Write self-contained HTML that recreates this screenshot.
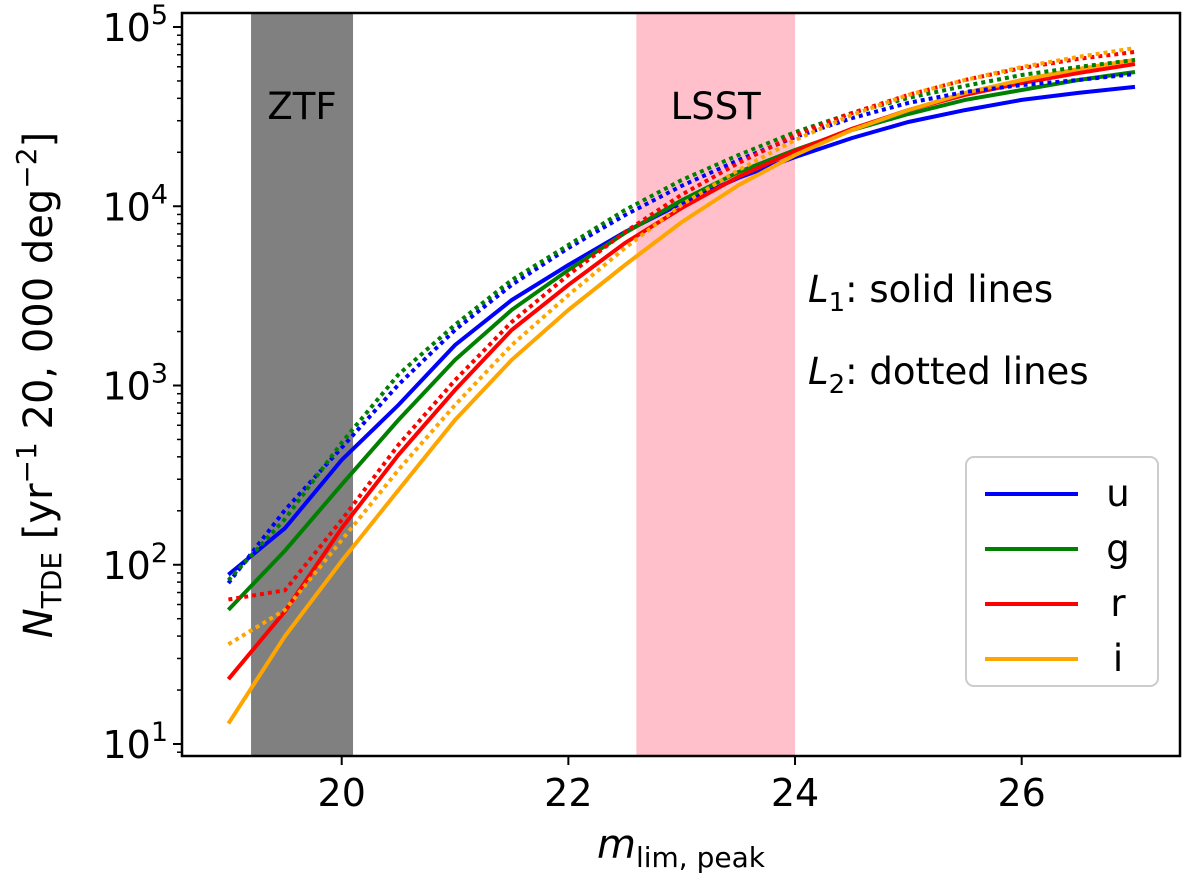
<!DOCTYPE html>
<html><head><meta charset="utf-8"><style>
body{margin:0;background:#fff;font-family:"DejaVu Sans","Liberation Sans",sans-serif;}
svg text{font-family:"DejaVu Sans","Liberation Sans",sans-serif;}
</style></head><body>
<svg id="chart" width="1200" height="878" viewBox="0 0 1200 878" xmlns="http://www.w3.org/2000/svg">
<g id="bands"></g>
<g id="series"></g>
<g id="axes"></g>
<g id="legend"></g>
</svg>
<script>
const mags = [19,19.5,20,20.5,21,21.5,22,22.5,23,23.5,24,24.5,25,25.5,26,26.5,27];
const uSolid = [88,160,384,778,1680,3000,4700,7180,10400,14400,18800,24000,29500,34400,39200,42900,46300];
const gSolid = [56,120,280,642,1390,2640,4410,7100,10800,15500,20600,26600,32700,39200,44500,50600,56100];
const rSolid = [23,55,160,410,944,2040,3640,6240,9780,14600,20300,27000,34400,41800,48700,55400,62200];
const iSolid = [13,40,105,261,642,1390,2640,4700,8160,13100,19300,26600,34400,42900,50600,58300,65500];
const uDot = [79,202,450,1010,2040,3640,5850,8930,13000,18100,24300,31000,37700,43400,47400,50600,54700];
const gDot = [82,180,480,1150,2180,3880,6080,9530,14000,19300,25900,33100,40200,46900,54000,59800,65500];
const rDot = [64,72,178,466,1070,2260,4140,7180,11600,17400,24900,33100,41800,50600,59000,66400,72600];
const iDot = [36,56,137,338,778,1680,3200,5850,10200,15900,23400,32300,41800,50600,59800,68100,76400];
const xTicks = [20,22,24,26];
const yTicks = [1,2,3,4,5];
const bandsData = [[19.2,20.1,'ZTF','#808080'],[22.6,24.0,'LSST','#ffc0cb']];
const legendLabels = ['u','g','r','i'];
const colors = ['#0000ff','#008000','#ff0000','#ffa500'];

const L=182,R=1180,T=13,B=756;
const X=v=>341.7+(v-20)*113.33;
const Y=v=>744-(Math.log10(v)-1)*179.25;
const NS='http://www.w3.org/2000/svg';
function mk(tag,attrs,parent,text){const e=document.createElementNS(NS,tag);for(const k in attrs)e.setAttribute(k,attrs[k]);if(text!==undefined)e.textContent=text;parent.appendChild(e);return e;}
const gb=document.getElementById('bands'),gs=document.getElementById('series'),ga=document.getElementById('axes'),gl=document.getElementById('legend');

bandsData.forEach(b=>{
  const r=mk('rect',{x:X(b[0]),y:T,width:X(b[1])-X(b[0]),height:B-T,fill:b[3]},gb);
  
  
  const t=mk('text',{x:(X(b[0])+X(b[1]))/2,y:119,'font-size':37,'text-anchor':'middle',fill:'#000'},gb,b[2]);
  
  
});

const all=[[uSolid,0,'u-solid',''],[gSolid,1,'g-solid',''],[rSolid,2,'r-solid',''],[iSolid,3,'i-solid',''],
[uDot,0,'u-dotted','4,4'],[gDot,1,'g-dotted','4,4'],[rDot,2,'r-dotted','4,4'],[iDot,3,'i-dotted','4,4']];
all.forEach(s=>{
  const pts=mags.map((m,k)=>X(m).toFixed(1)+','+Y(s[0][k]).toFixed(1)).join(' ');
  const p=mk('polyline',{points:pts,fill:'none',stroke:colors[s[1]],'stroke-width':4,'stroke-dasharray':s[3]||'none'},gs);
  
  
});

const frame=mk('rect',{x:L,y:T,width:R-L,height:B-T,fill:'none',stroke:'#000','stroke-width':2.5},ga);


xTicks.forEach(v=>{
  mk('line',{x1:X(v),x2:X(v),y1:B,y2:B+9,stroke:'#000','stroke-width':2},ga);
  const t=mk('text',{x:X(v),y:B+50,'font-size':38,'text-anchor':'middle'},ga,String(v));
  
  
});
yTicks.forEach(e=>{
  const y=Y(Math.pow(10,e));
  mk('line',{x1:L-9,x2:L,y1:y,y2:y,stroke:'#000','stroke-width':2},ga);
  const t=mk('text',{x:L-14,y:y+14,'font-size':38,'text-anchor':'end'},ga);
  mk('tspan',{},t,'10');
  mk('tspan',{dy:-17,'font-size':27},t,String(e));
  
  
  for(let m=2;m<10;m++){const v=Math.pow(10,e)*m;const yy=Y(v);if(yy>T&&yy<B)mk('line',{x1:L-5,x2:L,y1:yy,y2:yy,stroke:'#000','stroke-width':1.5},ga);}
});
mk('line',{x1:L-5,x2:L,y1:Y(9),y2:Y(9),stroke:'#000','stroke-width':1.5},ga);

const xl=mk('text',{x:681,y:858,'font-size':40,'text-anchor':'middle'},ga);
mk('tspan',{'font-style':'italic'},xl,'m');
mk('tspan',{'font-size':28,dy:9},xl,'lim, peak');



const yl=mk('text',{transform:'translate(52,385) rotate(-90)','font-size':40,'text-anchor':'middle'},ga);
mk('tspan',{'font-style':'italic'},yl,'N');
mk('tspan',{'font-size':28,dy:9},yl,'TDE');
mk('tspan',{dy:-9},yl,' [yr');
mk('tspan',{'font-size':28,dy:-16},yl,'−1');
mk('tspan',{dy:16},yl,' 20, 000 deg');
mk('tspan',{'font-size':28,dy:-16},yl,'−2');
mk('tspan',{dy:16},yl,']');



[['1','solid lines',302],['2','dotted lines',384]].forEach(a=>{
  const t=mk('text',{x:808,y:a[2],'font-size':37},ga);
  mk('tspan',{'font-style':'italic'},t,'L');
  mk('tspan',{'font-size':26,dy:9},t,a[0]);
  mk('tspan',{dy:-9},t,': '+a[1]);
  
  
});

const lb=mk('rect',{x:966,y:457,width:192,height:229,rx:8,fill:'#fff',stroke:'#ccc','stroke-width':2},gl);


legendLabels.forEach((s,k)=>{
  const y=494+k*55;
  const ln=mk('line',{x1:985,x2:1078,y1:y,y2:y,stroke:colors[k],'stroke-width':4},gl);
  
  
  const t=mk('text',{x:1118,y:y+12,'font-size':37,'text-anchor':'middle'},gl,s);
  
  
});
</script>
</body></html>
